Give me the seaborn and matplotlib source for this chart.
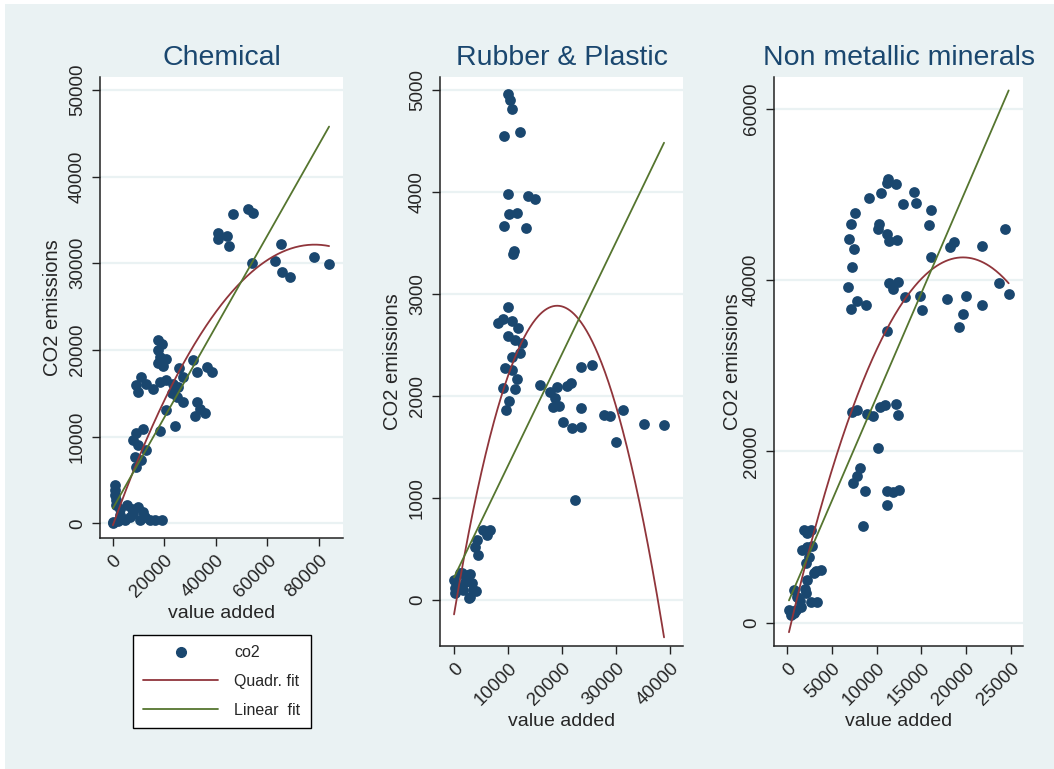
import numpy as np
import pandas as pd
import matplotlib
matplotlib.use("Agg")
import matplotlib.pyplot as plt
from matplotlib.patches import Rectangle
from matplotlib.lines import Line2D
import seaborn as sns

# --- data (value added vs CO2 emissions) ---
chem_va = [46700, 52300, 54500, 40600, 44100, 40900, 44900, 54100, 65100, 62900, 65700, 68900, 78200, 83900,
           17600, 18900, 17600, 18300, 20800, 17600, 19500, 31200, 32700, 36600, 38400, 25800,
           9100, 11000, 9800, 13000, 15600, 18300, 20800, 23400, 25400, 27300, 22800, 24700, 27300,
           32500, 33800, 35700, 31800, 20600, 24100, 18300,
           9100, 11700, 7900, 9800, 13000, 8500, 11100, 9100,
           800, 800, 800, 1200, 1400, 2700, 5300, 7300, 9800, 11800, 6600, 4000, 100, 10500, 14400,
           16300, 18900, 2700, 7900, 12400, 0, 1900, 4600]
chem_co2 = [35700, 36300, 35800, 33500, 33100, 32800, 32000, 30000, 32200, 30300, 29000, 28400, 30700, 29900,
            21100, 20700, 20000, 19200, 18900, 18500, 18100, 18800, 17500, 18000, 17400, 17900,
            15900, 16900, 15200, 16100, 15500, 16300, 16500, 16100, 15700, 16900, 15000, 14600, 14000,
            14000, 13200, 12700, 12400, 13100, 11200, 10600,
            10400, 10900, 9600, 9000, 8400, 7700, 7300, 6500,
            4390, 3810, 3230, 2660, 2080, 1700, 2080, 1700, 1880, 1310, 730, 540, 0, 350, 430,
            350, 350, 920, 1120, 730, 100, 230, 350]

rub_va = [10060, 10370, 10680, 9260, 12220, 10060, 13760, 15000, 10250, 11610, 9260, 13330, 10870, 11110,
          10060, 8200, 9130, 10690, 11900,
          10060, 11300, 12540, 12220, 10690, 9440, 10690, 11610, 9130, 11300, 10250, 9570,
          15930, 17780, 19010, 18700, 18280, 19500, 20120, 21790, 20860, 21600, 23460, 23460, 23460,
          25490, 27830, 28890, 31240, 30000, 35190, 38890, 22410,
          5430, 6670, 4200, 3890, 4500, 6060,
          0, 1110, 2350, 3280, 1720, 190, 2960, 3570, 800, 100, 2040, 2500, 3000, 1500, 4000, 2800]
rub_co2 = [4960, 4900, 4820, 4550, 4590, 3980, 3960, 3930, 3790, 3800, 3670, 3650, 3390, 3420,
           2870, 2720, 2760, 2740, 2670,
           2590, 2550, 2520, 2420, 2380, 2280, 2260, 2170, 2080, 2070, 1950, 1860,
           2110, 2040, 2090, 1985, 1890, 1900, 1750, 1690, 2100, 2130, 1880, 1700, 2290,
           2310, 1820, 1810, 1860, 1550, 1730, 1720, 985,
           686, 686, 588, 522, 441, 637,
           196, 262, 228, 164, 98, 66, 32, 98, 130, 115, 180, 250, 260, 270, 90, 20]

nm_va = [11310, 12170, 11200, 9190, 10490, 14170, 14360, 12910, 16040, 15880,
         7620, 7140, 6890, 7480, 7250, 6840, 7780, 7180, 8780,
         10270, 10190, 11190, 11380, 12310, 18670, 18220, 21730, 24360, 16070,
         11350, 12350, 11860, 13140, 14880, 15030,
         17890, 19940, 19680, 19160, 21730, 23660, 24740, 11200,
         7220, 7780, 8890, 9630, 10380, 10940, 12130, 12420, 10120,
         8150, 7850, 7400, 8710, 8520, 11130, 11800, 12540, 11200,
         1900, 2640, 1710, 2270, 2460, 2090, 3010, 3760, 2270, 780, 1150, 2640, 3380, 220, 780, 1530, 2090,
         500, 1000, 1500, 2800, 2200, 3200, 2000]
nm_co2 = [51780, 51160, 51280, 49530, 50160, 50240, 48990, 48910, 48150, 46400,
          47860, 46490, 44820, 43570, 41480, 39200, 37530, 36610, 37110,
          46490, 45940, 45360, 44610, 44690, 44390, 43850, 43970, 45980, 42650,
          39690, 39740, 38990, 38030, 38150, 36480,
          37820, 38110, 36100, 34560, 37110, 39690, 38320, 34070,
          24610, 24810, 24390, 24190, 25230, 25440, 25520, 24270, 20430,
          18020, 17190, 16270, 15440, 11360, 15440, 15230, 15520, 13770,
          10850, 10850, 8520, 8900, 7740, 6970, 5800, 6180, 5020, 3850, 3070, 2490, 2490, 1520, 1130, 1900, 3470,
          900, 1500, 2500, 9000, 10500, 6000, 4000]

# fitted coefficients: [intercept, slope] and [a, b, c]
chem_lin = [1730, 0.525]
chem_quad = [-229, 0.827, -5.28e-6]
rub_lin = [223, 0.1096]
rub_quad = [-140, 0.317, -8.3e-6]
nm_lin = [2087, 2.427]
nm_quad = [-2086, 4.556, -1.16e-4]

titles = ["Chemical", "Rubber & Plastic", "Non metallic minerals"]

NAVY = "#1a476f"
MAROON = "#90353b"
GREEN = "#55752f"
BG = "#eaf2f3"

sns.set_style("white")
plt.rcParams["font.family"] = ["Liberation Sans", "DejaVu Sans"]

fig = plt.figure(figsize=(10.54, 7.69), dpi=100)
fig.patch.set_facecolor("white")
fig.patches.append(Rectangle((5 / 1054, 0), 1 - 5 / 1054, 1 - 4 / 769, transform=fig.transFigure,
                             facecolor=BG, edgecolor="none", zorder=-10))


def px_axes(left, top, right, bottom):
    return fig.add_axes([left / 1054, 1 - bottom / 769, (right - left) / 1054, (bottom - top) / 769])


panels = [
    dict(ax=px_axes(100, 77, 343, 538), va=chem_va, co2=chem_co2, lin=chem_lin, quad=chem_quad,
         xlim=(-5000, 89300), ylim=(-1700, 51500), xticks=np.arange(0, 80001, 20000),
         yticks=np.arange(0, 50001, 10000), ylab_x=-0.156),
    dict(ax=px_axes(440, 77, 683, 646), va=rub_va, co2=rub_co2, lin=rub_lin, quad=rub_quad,
         xlim=(-2600, 42400), ylim=(-450, 5130), xticks=np.arange(0, 40001, 10000),
         yticks=np.arange(0, 5001, 1000), ylab_x=-0.156),
    dict(ax=px_axes(774, 77, 1023, 646), va=nm_va, co2=nm_co2, lin=nm_lin, quad=nm_quad,
         xlim=(-1450, 26340), ylim=(-2700, 63700), xticks=np.arange(0, 25001, 5000),
         yticks=np.arange(0, 60001, 20000), ylab_x=-0.128),
]

for p, title in zip(panels, titles):
    ax = p["ax"]
    ax.set_facecolor("white")
    df = pd.DataFrame({"va": p["va"], "co2": p["co2"]})
    xs = np.linspace(df["va"].min(), df["va"].max(), 300)
    a, b, c = p["quad"]
    fit = pd.DataFrame({"va": xs,
                        "quad": a + b * xs + c * xs ** 2,
                        "lin": p["lin"][0] + p["lin"][1] * xs})

    for yv in p["yticks"]:
        ax.axhline(yv, color=BG, lw=1.6, zorder=0)
    sns.scatterplot(data=df, x="va", y="co2", ax=ax, color=NAVY, s=60, linewidth=0, zorder=3)
    sns.lineplot(data=fit, x="va", y="quad", ax=ax, color=MAROON, lw=1.3, sort=False, zorder=4)
    sns.lineplot(data=fit, x="va", y="lin", ax=ax, color=GREEN, lw=1.3, sort=False, zorder=4)

    ax.set_xlim(p["xlim"])
    ax.set_ylim(p["ylim"])
    ax.set_xticks(p["xticks"])
    ax.set_yticks(p["yticks"])
    ax.set_xticklabels([str(v) for v in p["xticks"]], rotation=45, ha="right", rotation_mode="anchor")
    ax.set_yticklabels([str(v) for v in p["yticks"]], rotation=90, va="center")
    ax.tick_params(axis="both", labelsize=13.5, length=6, width=1, color="#222222", pad=4,
                   direction="out", left=True, bottom=True)
    ax.set_xlabel("value added", fontsize=14, labelpad=3)
    ax.set_ylabel("CO2 emissions", fontsize=14.5)
    ax.yaxis.set_label_coords(p["ylab_x"], 0.5)
    for side in ["top", "right"]:
        ax.spines[side].set_visible(False)
    for side in ["left", "bottom"]:
        ax.spines[side].set_color("#222222")
        ax.spines[side].set_linewidth(1.1)
    pos = ax.get_position()
    fig.text(pos.x0 + pos.width / 2, 1 - 58 / 769, title, ha="center", va="center",
             fontsize=20.5, color=NAVY)

handles = [Line2D([], [], marker="o", ls="none", color=NAVY, markersize=7),
           Line2D([], [], color=MAROON, lw=1.3),
           Line2D([], [], color=GREEN, lw=1.3)]
leg = fig.legend(handles, ["co2", "Quadr. fit", "Linear  fit"], loc="upper left",
                 bbox_to_anchor=(133 / 1054, 1 - 635 / 769), borderaxespad=0, fontsize=11.5,
                 handlelength=4.7, handletextpad=1.0, labelspacing=0.85, borderpad=0.65,
                 frameon=True, fancybox=False, edgecolor="black", framealpha=1)
leg.get_frame().set_linewidth(1.0)

fig.savefig("out.png", dpi=100, facecolor=fig.get_facecolor())
